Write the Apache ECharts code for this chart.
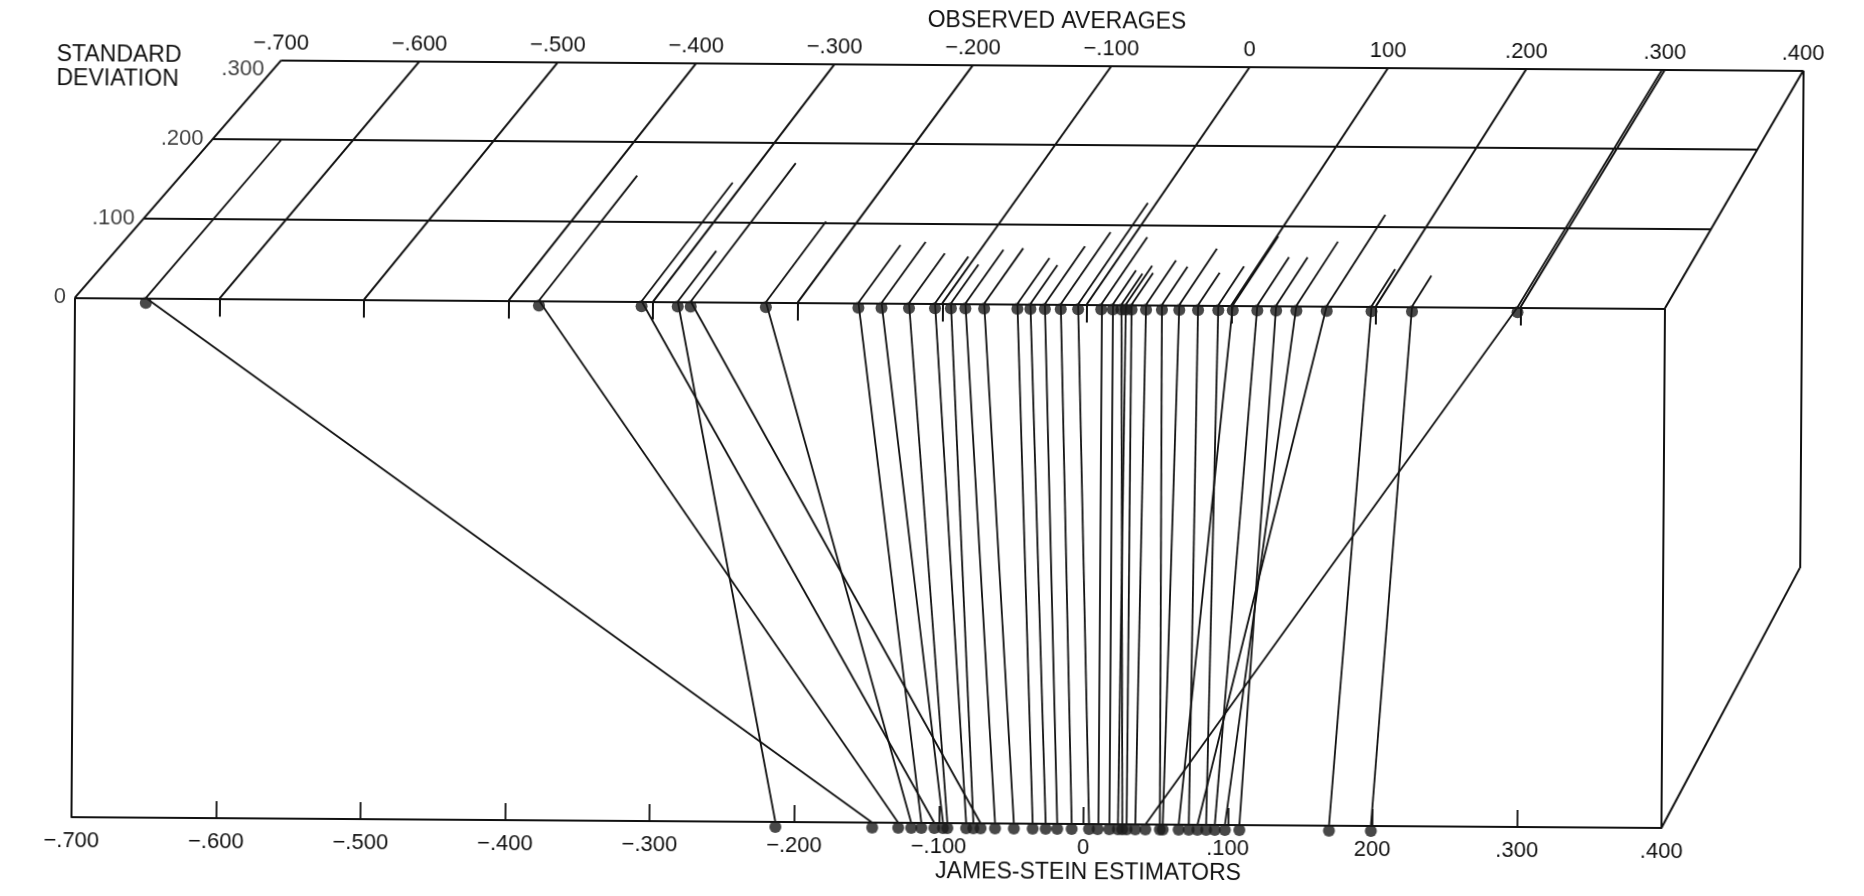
<!DOCTYPE html>
<html><head><meta charset="utf-8">
<script src="https://cdn.jsdelivr.net/npm/echarts@6/dist/echarts.min.js"></script>
<style>
html,body{margin:0;padding:0;background:#fff;overflow:hidden}
#c{width:1864px;height:896px;transform:rotate(0.39deg);transform-origin:932px 448px;}
</style>
</head><body><div id="c"></div><script>
// ---- data (36 cities, sorted by observed average) ----
const observed   = [-0.651,-0.379,-0.308,-0.283,-0.274,-0.222,-0.158,-0.142,-0.123,-0.105,-0.094,-0.084,-0.071,-0.048,-0.039,-0.029,-0.018,-0.006,0.010,0.018,0.024,0.027,0.031,0.041,0.052,0.064,0.077,0.091,0.101,0.118,0.131,0.145,0.166,0.197,0.225,0.298];
const jamesStein = [-0.146,-0.128,-0.103,-0.213,-0.071,-0.119,-0.112,-0.097,-0.094,-0.081,-0.076,-0.061,-0.048,-0.035,-0.026,-0.018,-0.008,0.004,0.010,0.018,0.027,0.024,0.030,0.036,0.053,0.055,0.073,0.085,0.066,0.091,0.108,0.098,0.079,0.170,0.199,0.043];
const stdDev     = [0.200,0.158,0.150,0.064,0.175,0.102,0.073,0.077,0.063,0.059,0.049,0.068,0.070,0.058,0.049,0.073,0.091,0.128,0.085,0.043,0.039,0.049,0.040,0.056,0.048,0.071,0.041,0.049,0.087,0.061,0.061,0.081,0.115,0.047,0.039,0.300];
const valueTicks   = [-0.7,-0.6,-0.5,-0.4,-0.3,-0.2,-0.1,0,0.1,0.2,0.3,0.4];
const topLabels    = ['\u2212.700','\u2212.600','\u2212.500','\u2212.400','\u2212.300','\u2212.200','\u2212.100','0','100','.200','.300','.400'];
const bottomLabels = ['\u2212.700','\u2212.600','\u2212.500','\u2212.400','\u2212.300','\u2212.200','\u2212.100','0','.100','200','.300','.400'];
const sdTicks  = [0,0.1,0.2,0.3];
const sdLabels = ['0','.100','.200','.300'];

// ---- oblique (perspective) projection of the top face ----
const FMIN=-0.7, FMAX=0.4, SDMAX=0.3;
const BACK_RATIO=0.9572, BACK_LEFT=-0.5584, DEPTH=0.4591, TICK=0.035;
function backU(v){return BACK_LEFT+(v-FMIN)*BACK_RATIO;}
function proj(v,s){const t=s/SDMAX;return [v+(backU(v)-v)*t, 1+DEPTH*t];}
const seg=(a,b)=>({coords:[a,b]});
const idx=v=>Math.round((v-FMIN)*10);

const frame=[];
sdTicks.forEach(s=>frame.push(seg(proj(FMIN,s),proj(FMAX,s))));
valueTicks.forEach(v=>frame.push(seg(proj(v,0),proj(v,SDMAX))));
valueTicks.slice(1,-1).forEach(v=>frame.push(seg([v,1],[v,1-TICK])));
frame.push(seg([FMIN,0],[FMIN,1]), seg([FMAX,0],[FMAX,1]));
const bbr=[backU(FMAX),1+DEPTH-BACK_RATIO];
frame.push(seg(proj(FMAX,SDMAX),bbr), seg(bbr,[FMAX,0]));

const connectors=observed.map((o,i)=>seg([o,1],[jamesStein[i],0]));
const stubs=observed.map((o,i)=>seg(proj(o,0),proj(o,stdDev[i])));
const INK='#111111';
const FONT='Liberation Sans, Arial, sans-serif';

const chart=echarts.init(document.getElementById('c'),null,{renderer:'canvas'});
chart.setOption({
  backgroundColor:'#ffffff',
  animation:false,
  grid:[
    {left:74,width:1590,top:64.7,height:758.3},
    {left:278.4,width:1522,top:64.7,height:10}
  ],
  xAxis:[
    {gridIndex:0,type:'value',min:FMIN,max:FMAX,interval:0.1,position:'bottom',
     axisLine:{show:true,onZero:false,lineStyle:{color:INK,width:2}},
     axisTick:{show:true,inside:true,length:17,lineStyle:{color:INK,width:1.8}},
     splitLine:{show:false},
     axisLabel:{margin:13,fontSize:22,color:INK,fontFamily:FONT,
       formatter:v=>bottomLabels[idx(v)]}},
    {gridIndex:1,type:'value',min:FMIN,max:FMAX,interval:0.1,position:'top',
     axisLine:{show:false},axisTick:{show:false},splitLine:{show:false},
     axisLabel:{margin:6,fontSize:22,color:INK,fontFamily:FONT,
       formatter:v=>topLabels[idx(v)]}}
  ],
  yAxis:[
    {gridIndex:0,type:'value',min:0,max:1+DEPTH,show:false},
    {gridIndex:1,type:'value',min:0,max:1,show:false}
  ],
  graphic:[
    {type:'text',left:54,top:49,style:{text:'STANDARD\nDEVIATION',font:'23px '+FONT,fill:INK,lineHeight:24}},
    {type:'text',x:1054,y:21,style:{text:'OBSERVED AVERAGES',font:'23px '+FONT,fill:INK,align:'center',verticalAlign:'middle'}},
    {type:'text',x:1091,y:872,style:{text:'JAMES-STEIN ESTIMATORS',font:'23px '+FONT,fill:INK,align:'center',verticalAlign:'middle'}}
  ],
  series:[
    {type:'lines',coordinateSystem:'cartesian2d',xAxisIndex:0,yAxisIndex:0,silent:true,clip:false,
     lineStyle:{color:INK,width:2,opacity:1},data:frame},
    {type:'lines',coordinateSystem:'cartesian2d',xAxisIndex:0,yAxisIndex:0,silent:true,clip:false,
     lineStyle:{color:INK,width:1.8,opacity:1},data:stubs},
    {type:'lines',coordinateSystem:'cartesian2d',xAxisIndex:0,yAxisIndex:0,silent:true,clip:false,
     lineStyle:{color:INK,width:1.8,opacity:1},data:connectors},
    {type:'scatter',xAxisIndex:0,yAxisIndex:0,symbolSize:12,symbolOffset:[0,5],clip:false,
     itemStyle:{color:'#1a1a1a'},data:observed.map(o=>[o,1])},
    {type:'scatter',xAxisIndex:0,yAxisIndex:0,symbolSize:12,symbolOffset:[0,5],clip:false,
     itemStyle:{color:'#1a1a1a'},data:jamesStein.map(j=>[j,0])},
    {type:'scatter',xAxisIndex:0,yAxisIndex:0,symbolSize:0,silent:true,clip:false,
     label:{show:true,position:'left',distance:9,fontSize:22,color:INK,fontFamily:FONT,
       formatter:p=>sdLabels[p.dataIndex]},
     data:sdTicks.map((s,i)=>({value:proj(FMIN,s),label:i===3?{offset:[-8,9]}:{}}))}
  ]
});
</script></body></html>
